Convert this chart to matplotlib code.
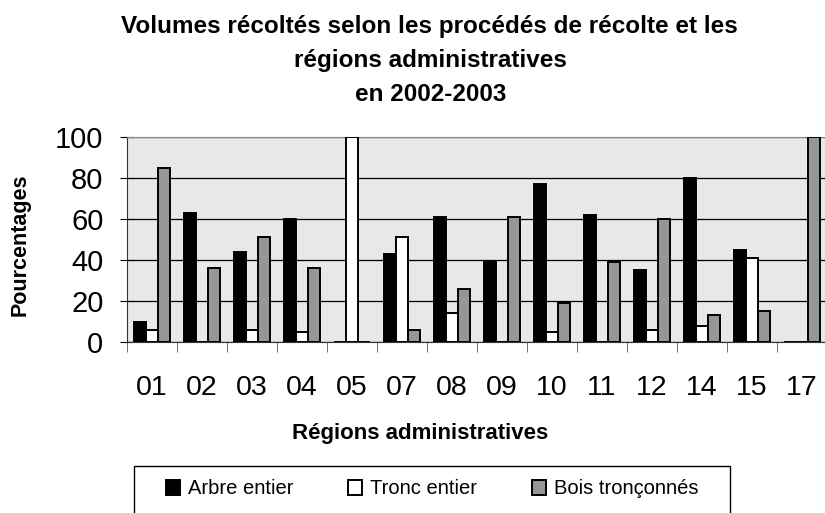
import numpy as np
import matplotlib.pyplot as plt
from matplotlib.patches import Rectangle

plt.rcParams['font.family'] = ['Liberation Sans', 'DejaVu Sans']

regions = ["01", "02", "03", "04", "05", "07", "08", "09", "10", "11", "12", "14", "15", "17"]
arbre_entier = [10, 63, 44, 60, 0, 43, 61, 39, 77, 62, 35, 80, 45, 0]
tronc_entier = [6, 0, 6, 5, 100, 51, 14, 0, 5, 0, 6, 8, 41, 0]
bois_tronconnes = [85, 36, 51, 36, 0, 6, 26, 61, 19, 39, 60, 13, 15, 100]

fig = plt.figure(figsize=(8.25, 5.13), dpi=100)
ax = fig.add_axes([127 / 825, 171 / 513, 700 / 825, 205 / 513])

x = np.arange(len(regions)) + 0.5
w = 0.235
kw = dict(width=w, edgecolor='black', linewidth=1.4, zorder=3)
ax.bar(x - w, arbre_entier, color='black', label='Arbre entier', **kw)
ax.bar(x, tronc_entier, color='white', label='Tronc entier', **kw)
ax.bar(x + w, bois_tronconnes, color='#969696', label='Bois tronçonnés', **kw)

ax.set_facecolor('#e8e8e8')
ax.set_xlim(0, len(regions))
ax.set_ylim(0, 100)
ax.set_yticks([0, 20, 40, 60, 80, 100])
ax.yaxis.grid(True, color='black', linewidth=0.9, zorder=1)
ax.set_axisbelow(True)

ax.set_xticks(x)
ax.set_xticklabels(regions)
ax.set_xticks(np.arange(len(regions) + 1), minor=True)
ax.tick_params(axis='x', which='major', length=0, pad=24, labelsize=20.5)
ax.tick_params(axis='x', which='minor', length=7, color='#555555')
ax.tick_params(axis='y', direction='inout', length=10, labelsize=21, pad=12)

for s in ['top', 'right']:
    ax.spines[s].set_color('#888888')
ax.spines['left'].set_color('#333333')
ax.spines['bottom'].set_color('#333333')

fig.text(20 / 825, 1 - 245 / 513, 'Pourcentages', rotation=90,
         ha='center', va='center', fontsize=15.5, fontweight='bold')
fig.text(420 / 825, 1 - 433 / 513, 'Régions administratives',
         ha='center', va='center', fontsize=16, fontweight='bold')

fig.text(0.52, 1 - 27 / 513, 'Volumes récoltés selon les procédés de récolte et les',
         ha='center', va='center', fontsize=17.5, fontweight='bold')
fig.text(0.522, 1 - 61 / 513, 'régions administratives',
         ha='center', va='center', fontsize=17.5, fontweight='bold')
fig.text(0.522, 1 - 95 / 513, 'en 2002-2003',
         ha='center', va='center', fontsize=17.5, fontweight='bold')

# cadre de la légende (coupé en bas comme dans l'original)
fig.patches.append(Rectangle((134 / 825, -0.05), 596 / 825, 0.05 + 47 / 513,
                             transform=fig.transFigure, fill=False,
                             edgecolor='black', linewidth=1.0))
leg = fig.legend(loc='center left', bbox_to_anchor=(166 / 825, 1 - 489 / 513),
                 ncol=3, fontsize=14.5, frameon=False, borderpad=0, borderaxespad=0,
                 handlelength=0.7, handleheight=0.7, handletextpad=0.4,
                 columnspacing=2.7)

fig.savefig('out.png', dpi=100)
